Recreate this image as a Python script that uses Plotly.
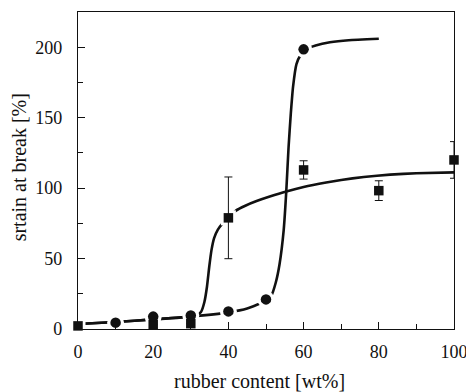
import plotly.graph_objects as go

# Measured points
circle_x = [10, 20, 30, 40, 50, 60]
circle_y = [4.5, 8.8, 9.6, 12.5, 21, 198.5]

square_x = [0, 20, 30, 40, 60, 80, 100]
square_y = [2.2, 3.2, 3.8, 78.9, 112.9, 98.2, 120]
square_err = [0, 0, 0, 29, 6.5, 7, 13]

# Fitted curves through each series
circle_fit_x = [0, 10, 20, 30, 40, 45, 50, 51.4, 52.6, 53.6, 54.7, 55.4, 56.0,
                56.6, 57.2, 58.1, 59.2, 60.6, 63.2, 67, 72, 80]
circle_fit_y = [3.5, 5, 6.8, 8.8, 11.8, 14.5, 20, 23.5, 33, 46, 70, 98, 129,
                153, 172, 188, 194.5, 198.5, 201.2, 203.5, 205, 206]

square_fit_x = [0, 10, 20, 30, 31.6, 32.7, 33.6, 34.3, 34.9, 35.5, 36.2, 37.2, 38.4,
                40.0, 42.0, 44.5, 47.5, 51.0, 55.4, 60, 66, 70, 76, 83, 90, 100]
square_fit_y = [3.5, 5, 6.8, 8.8, 9.8, 12, 19, 30, 44, 56, 64.5, 70.5, 74.8,
                78.9, 84, 87.5, 90.8, 94, 97.6, 100.8, 104, 105.8, 107.9, 109.6, 110.6, 111.2]

x_ticks = [0, 20, 40, 60, 80, 100]
y_ticks = [0, 50, 100, 150, 200]

FONT = "Liberation Serif, Times New Roman, serif"
INK = "#111111"

fig = go.Figure()

# fitted curves
for fx, fy in [(circle_fit_x, circle_fit_y), (square_fit_x, square_fit_y)]:
    fig.add_trace(go.Scatter(
        x=fx, y=fy, mode="lines",
        line=dict(color=INK, width=2.6, shape="spline", smoothing=0.4),
        hoverinfo="skip", showlegend=False, cliponaxis=False,
    ))

# white halos that open small gaps in the curves around each marker
fig.add_trace(go.Scatter(
    x=circle_x, y=circle_y, mode="markers",
    marker=dict(symbol="circle", size=17, color="white"),
    hoverinfo="skip", showlegend=False, cliponaxis=False,
))
fig.add_trace(go.Scatter(
    x=square_x, y=square_y, mode="markers",
    marker=dict(symbol="square", size=15, color="white"),
    hoverinfo="skip", showlegend=False, cliponaxis=False,
))

# squares with error bars
fig.add_trace(go.Scatter(
    x=square_x, y=square_y, mode="markers",
    marker=dict(symbol="square", size=9.5, color=INK),
    error_y=dict(type="data", array=square_err, visible=True,
                 color=INK, thickness=1, width=4),
    showlegend=False, cliponaxis=False,
))
# circles
fig.add_trace(go.Scatter(
    x=circle_x, y=circle_y, mode="markers",
    marker=dict(symbol="circle", size=10.5, color=INK),
    showlegend=False, cliponaxis=False,
))

axis_common = dict(
    showgrid=False, zeroline=False,
    showline=True, linecolor=INK, linewidth=1.3, mirror=True,
    ticks="inside", ticklen=7, tickwidth=1.1, tickcolor=INK,
    tickfont=dict(family=FONT, size=18, color=INK),
    ticklabeloverflow="allow", automargin=False,
)

fig.update_xaxes(
    range=[0, 100], tickvals=x_ticks, ticktext=[str(v) for v in x_ticks],
    minor=dict(ticks="inside", ticklen=5, tickwidth=1, tickcolor=INK, dtick=10, tick0=0),
    ticklabelstandoff=6,
    **axis_common,
)
fig.update_yaxes(
    range=[0, 225], tickvals=y_ticks, ticktext=[str(v) for v in y_ticks],
    minor=dict(ticks="inside", ticklen=5, tickwidth=1, tickcolor=INK, dtick=25, tick0=0),
    ticklabelstandoff=11,
    **axis_common,
)

fig.add_annotation(
    text="rubber content [wt%]", xref="paper", yref="paper",
    x=0.484, y=0, yshift=-52, xanchor="center", yanchor="middle",
    showarrow=False, font=dict(family=FONT, size=20, color=INK),
)
fig.add_annotation(
    text="srtain at break [%]", xref="paper", yref="paper",
    x=0, xshift=-59, y=0.51, xanchor="center", yanchor="middle",
    textangle=-90, showarrow=False, font=dict(family=FONT, size=20, color=INK),
)

fig.update_layout(
    width=466, height=392,
    margin=dict(l=78, r=12, t=12, b=63),
    paper_bgcolor="white", plot_bgcolor="white",
    showlegend=False,
)

fig.write_html("out.html")
